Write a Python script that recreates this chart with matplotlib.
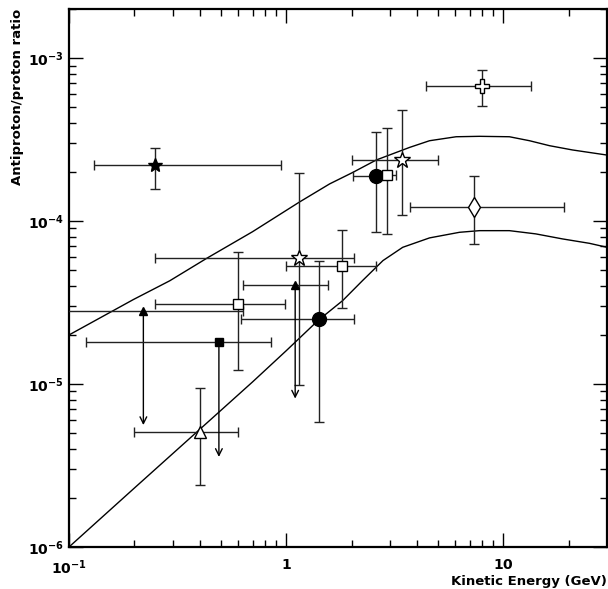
import matplotlib
matplotlib.use("Agg")
import matplotlib.pyplot as plt
from matplotlib.ticker import LogLocator, NullFormatter, FixedLocator, FixedFormatter

# ---------------- data ----------------
# measured points: x, y and error-bar ends
pt_x   = [0.25, 8.0, 3.4, 2.6, 2.9, 7.3, 1.14, 1.80, 1.415, 0.60, 0.40]
pt_y   = [2.2e-4, 6.75e-4, 2.37e-4, 1.9e-4, 1.92e-4, 1.22e-4, 5.92e-5, 5.28e-5, 2.49e-5, 3.1e-5, 5.08e-6]
pt_xlo = [0.13, 4.4, 2.0, 2.04, 2.7, 3.7, 0.25, 1.0, 0.622, 0.25, 0.20]
pt_xhi = [0.95, 13.4, 5.0, 2.9, 3.19, 19.1, 2.05, 2.6, 2.05, 0.99, 0.60]
pt_ylo = [1.58e-4, 5.07e-4, 1.09e-4, 8.6e-5, 8.3e-5, 7.24e-5, 9.8e-6, 2.92e-5, 5.83e-6, 1.22e-5, 2.39e-6]
pt_yhi = [2.8e-4, 8.4e-4, 4.8e-4, 3.5e-4, 3.72e-4, 1.9e-4, 1.97e-4, 8.77e-5, 5.72e-5, 6.47e-5, 9.5e-6]

# upper limits: x, y, horizontal extent, arrow tip
ul_x   = [0.22, 0.49, 1.1]
ul_y   = [2.79e-5, 1.8e-5, 4.04e-5]
ul_xlo = [0.09, 0.12, 0.63]
ul_xhi = [0.63, 0.855, 1.556]
ul_tip = [5.6e-6, 3.57e-6, 8.14e-6]

# model curves
up_x = [0.1, 0.198, 0.291, 0.43, 0.7, 1.153, 1.585, 2.03, 2.6, 3.7, 4.57, 6.06, 7.76, 10.66,
        13.2, 16.3, 20.8, 30.0]
up_y = [2.0e-5, 3.3e-5, 4.3e-5, 5.9e-5, 8.6e-5, 1.31e-4, 1.69e-4, 1.99e-4, 2.37e-4, 2.83e-4,
        3.11e-4, 3.29e-4, 3.31e-4, 3.29e-4, 3.11e-4, 2.90e-4, 2.73e-4, 2.54e-4]
lo_x = [0.1, 0.2, 0.4, 0.7, 1.0, 1.4, 1.82, 2.25, 2.79, 3.44, 4.57, 6.28, 7.76, 10.66, 14.1,
        18.7, 24.9, 30.0]
lo_y = [1.0e-6, 2.3e-6, 5.27e-6, 1.03e-5, 1.6e-5, 2.45e-5, 3.25e-5, 4.32e-5, 5.72e-5, 6.9e-5,
        7.88e-5, 8.53e-5, 8.73e-5, 8.73e-5, 8.34e-5, 7.77e-5, 7.3e-5, 6.9e-5]

# styles (marker, filled?, size)
pt_style = [('*', True, 10), ('P', False, 10), ('*', False, 12), ('o', True, 10), ('s', False, 6.5),
            ('d', False, 10), ('*', False, 12), ('s', False, 6.5), ('o', True, 10), ('s', False, 6.5),
            ('^', False, 8)]
ul_style = [('^', True, 6), ('s', True, 6), ('^', True, 6)]

# ---------------- figure ----------------
fig = plt.figure(figsize=(6.08, 5.89), dpi=100)
ax = fig.add_axes([69/608, 1-547/589, 538/608, 538/589])
ax.set_xscale('log')
ax.set_yscale('log')
ax.set_xlim(0.1, 30)
ax.set_ylim(1e-6, 2e-3)

ax.plot(up_x, up_y, color='k', lw=1.0, zorder=2)
ax.plot(lo_x, lo_y, color='k', lw=1.0, zorder=2)

ecol = '#222222'
for i in range(len(pt_x)):
    m, filled, ms = pt_style[i]
    x, y = pt_x[i], pt_y[i]
    xerr = [[x - pt_xlo[i]], [pt_xhi[i] - x]]
    yerr = [[y - pt_ylo[i]], [pt_yhi[i] - y]]
    ax.errorbar([x], [y], xerr=xerr, yerr=yerr, fmt='none', ecolor=ecol, elinewidth=1.0,
                capsize=3.6, capthick=1.0, zorder=3)
    ax.plot([x], [y], marker=m, ms=ms, mfc='k' if filled else 'white', mec='k', mew=1.0,
            linestyle='none', zorder=4)

for i in range(len(ul_x)):
    m, filled, ms = ul_style[i]
    x, y = ul_x[i], ul_y[i]
    xerr = [[x - ul_xlo[i]], [ul_xhi[i] - x]]
    ax.errorbar([x], [y], xerr=xerr, fmt='none', ecolor=ecol, elinewidth=1.0,
                capsize=3.6, capthick=1.0, zorder=3)
    ax.annotate('', xy=(x, ul_tip[i]), xytext=(x, y),
                arrowprops=dict(arrowstyle='->', lw=1.0, color='k', shrinkA=0, shrinkB=0,
                                mutation_scale=12), zorder=3)
    ax.plot([x], [y], marker=m, ms=ms, mfc='k', mec='k', linestyle='none', zorder=4)

# ---------------- axes styling ----------------
for sp in ax.spines.values():
    sp.set_linewidth(1.6)

ax.tick_params(which='both', direction='in', top=True, right=True, width=1.0)
ax.tick_params(which='major', length=10)
ax.tick_params(which='minor', length=5)

ax.xaxis.set_major_locator(FixedLocator([0.1, 1, 10]))
ax.xaxis.set_major_formatter(FixedFormatter([r'$\mathbf{10^{-1}}$', r'$\mathbf{1}$', r'$\mathbf{10}$']))
ax.xaxis.set_minor_locator(LogLocator(base=10, subs=range(2, 10), numticks=20))
ax.xaxis.set_minor_formatter(NullFormatter())
ax.yaxis.set_major_locator(FixedLocator([1e-6, 1e-5, 1e-4, 1e-3]))
ax.yaxis.set_major_formatter(FixedFormatter([r'$\mathbf{10^{-6}}$', r'$\mathbf{10^{-5}}$',
                                             r'$\mathbf{10^{-4}}$', r'$\mathbf{10^{-3}}$']))
ax.yaxis.set_minor_locator(LogLocator(base=10, subs=range(2, 10), numticks=20))
ax.yaxis.set_minor_formatter(NullFormatter())
ax.tick_params(axis='both', which='major', labelsize=10, pad=4)
ax.tick_params(axis='x', which='major', pad=8)

fig.text(18/608, 1-9/589, 'Antiproton/proton ratio', rotation=90, ha='center', va='top',
         fontsize=9.5, fontweight='bold')
fig.text(607/608, 1-581/589, 'Kinetic Energy (GeV)', ha='right', va='center',
         fontsize=9.5, fontweight='bold')

fig.savefig('out.png', dpi=100)
